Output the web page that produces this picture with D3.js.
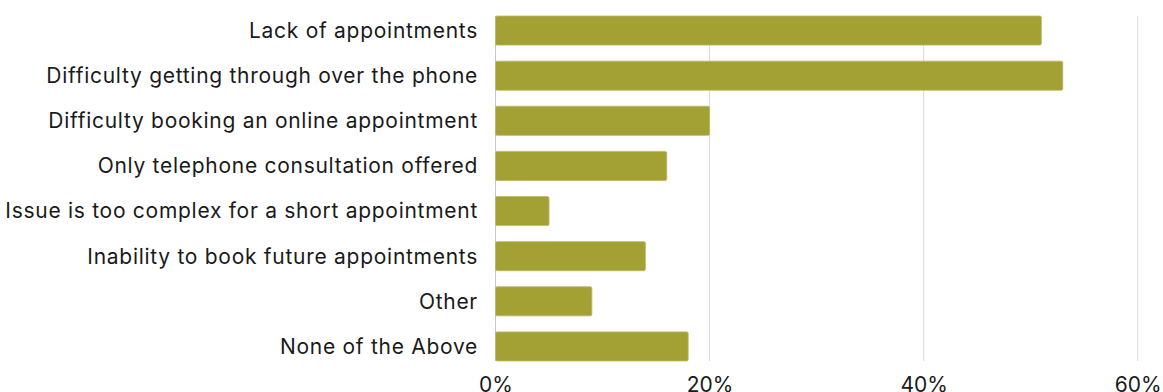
<!DOCTYPE html>
<html>
<head>
<meta charset="utf-8">
<script src="https://cdn.jsdelivr.net/npm/d3@7"></script>
<style>
  html, body { margin: 0; padding: 0; background: #ffffff; }
  svg { display: block; }
  text { font-family: Inter, Lato, sans-serif; fill: #1a1a1a; }
</style>
</head>
<body>
<svg id="chart" width="1163" height="392"></svg>
<script>
// Reasons given, top to bottom
const categories = [
  "Lack of appointments",
  "Difficulty getting through over the phone",
  "Difficulty booking an online appointment",
  "Only telephone consultation offered",
  "Issue is too complex for a short appointment",
  "Inability to book future appointments",
  "Other",
  "None of the Above"
];
// Share of respondents (%)
const values = [51, 53, 20, 16, 5, 14, 9, 18];
// Axis ticks (%)
const tickValues = [0, 20, 40, 60];

const svg = d3.select("#chart");
const x0 = 495.5, x1 = 1137.7;

const x = d3.scaleLinear().domain([0, 60]).range([x0, x1]);
const y = d3.scaleBand()
  .domain(categories)
  .range([8, 369])
  .paddingInner(0.3556)
  .paddingOuter(0.178);

const gridTop = y(categories[0]);
const gridBottom = y(categories[categories.length - 1]) + y.bandwidth();

// vertical gridlines
svg.append("g")
  .selectAll("line")
  .data(tickValues)
  .join("line")
  .attr("x1", d => x(d))
  .attr("x2", d => x(d))
  .attr("y1", gridTop)
  .attr("y2", gridBottom)
  .attr("stroke", d => d === 0 ? "#c8c8c8" : "#d9d9d9")
  .attr("stroke-width", 1);

// bars
svg.append("g")
  .selectAll("rect")
  .data(values)
  .join("rect")
  .attr("x", x(0))
  .attr("y", (d, i) => y(categories[i]))
  .attr("width", d => x(d) - x(0))
  .attr("height", y.bandwidth())
  .attr("rx", 1.5)
  .attr("fill", "#a3a034")
  .attr("stroke", "#b9b766")
  .attr("stroke-width", 0.8);

// category labels
svg.append("g")
  .selectAll("text")
  .data(categories)
  .join("text")
  .attr("x", 478)
  .attr("y", d => y(d) + y.bandwidth() / 2)
  .attr("dy", "0.35em")
  .attr("text-anchor", "end")
  .attr("font-size", 21)
  .attr("letter-spacing", "0.72px")
  .text(d => d);

// x axis tick labels
const xAxis = d3.axisBottom(x)
  .tickValues(tickValues)
  .tickFormat(d => d + "%")
  .tickSize(0)
  .tickPadding(0);

const gx = svg.append("g")
  .attr("transform", `translate(0, 375)`)
  .call(xAxis);
gx.select(".domain").remove();
gx.selectAll("text")
  .attr("font-size", 21)
  .attr("font-family", "Inter, Lato, sans-serif")
  .attr("fill", "#1a1a1a")
  .attr("dy", "0.8em");
</script>
</body>
</html>
